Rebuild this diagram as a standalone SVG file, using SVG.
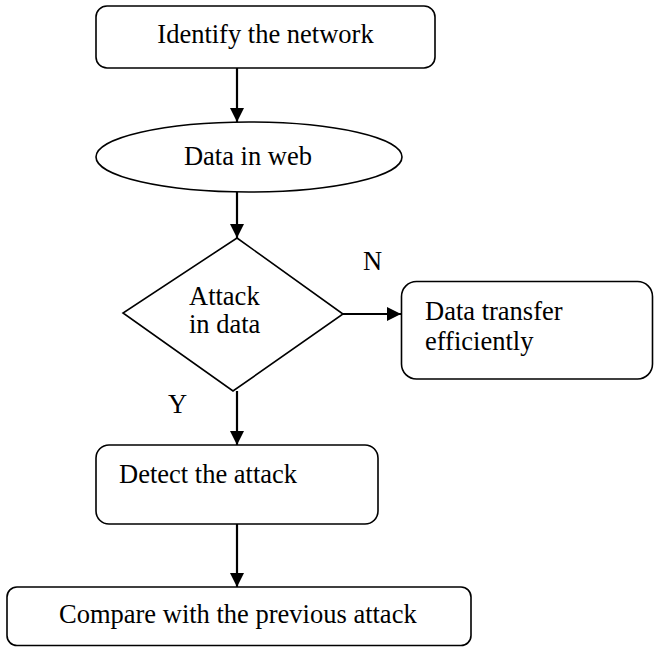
<svg xmlns="http://www.w3.org/2000/svg" width="654" height="647" viewBox="0 0 654 647">
  <style>
    .shape { fill: #ffffff; stroke: #000000; stroke-width: 1.6; }
    .edge { fill: none; stroke: #000000; stroke-width: 2.2; marker-end: url(#arrow); }
    .label { font-family: "Liberation Serif", "Times New Roman", serif; font-size: 26.5px; fill: #000000; }
  </style>
  <defs>
    <marker id="arrow" markerUnits="userSpaceOnUse" markerWidth="16" markerHeight="16" viewBox="0 0 16 16" refX="15" refY="8" orient="auto">
      <path d="M1,1 L15,8 L1,15 Z" fill="#000000"/>
    </marker>
  </defs>

  <rect width="654" height="647" fill="#ffffff"/>

  <!-- connectors -->
  <g id="connectors">
    <line class="edge" x1="237" y1="68" x2="237" y2="122"/>
    <line class="edge" x1="237" y1="192" x2="237" y2="238"/>
    <line class="edge" x1="343" y1="314" x2="401" y2="314"/>
    <line class="edge" x1="237" y1="391" x2="237" y2="445"/>
    <line class="edge" x1="237" y1="524" x2="237" y2="587"/>
  </g>

  <!-- branch labels -->
  <g id="branch-labels">
    <text class="label" x="363" y="270">N</text>
    <text class="label" x="168" y="413">Y</text>
  </g>

  <g id="identify">
    <rect class="shape" x="96" y="6" width="339" height="62" rx="11"/>
    <text class="label" x="265.5" y="43" text-anchor="middle">Identify the network</text>
  </g>

  <g id="data-in-web">
    <ellipse class="shape" cx="249" cy="157" rx="153" ry="35"/>
    <text class="label" x="248" y="165" text-anchor="middle">Data in web</text>
  </g>

  <g id="attack-decision">
    <polygon class="shape" points="237,238 343,314 233,391 123,313"/>
    <text class="label" x="189" y="305">Attack</text>
    <text class="label" x="189" y="333">in data</text>
  </g>

  <g id="transfer">
    <rect class="shape" x="401.5" y="281.5" width="251" height="97.5" rx="15"/>
    <text class="label" x="425" y="320">Data transfer</text>
    <text class="label" x="425" y="350">efficiently</text>
  </g>

  <g id="detect">
    <rect class="shape" x="96" y="445" width="282" height="79" rx="13"/>
    <text class="label" x="119" y="483">Detect the attack</text>
  </g>

  <g id="compare">
    <rect class="shape" x="7" y="587" width="464" height="58.5" rx="10"/>
    <text class="label" x="59" y="623">Compare with the previous attack</text>
  </g>
</svg>
